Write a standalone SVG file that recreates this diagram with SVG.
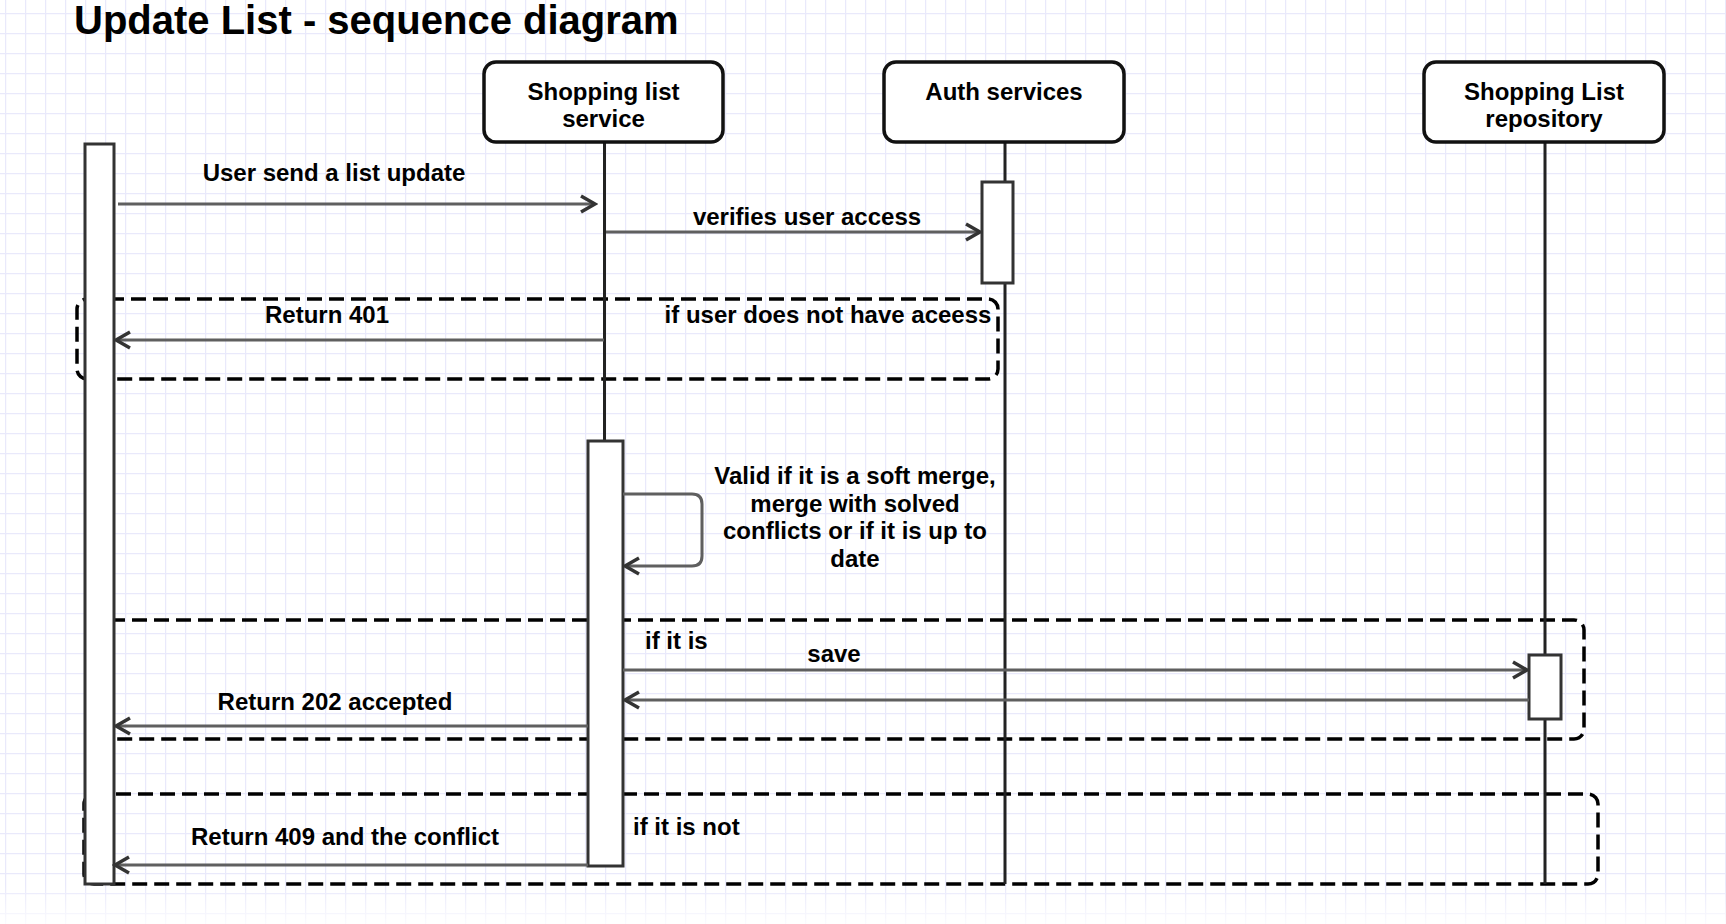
<svg xmlns="http://www.w3.org/2000/svg" width="1726" height="924" viewBox="0 0 1726 924">
<style>
text{font-family:"Liberation Sans",Arial,sans-serif;font-weight:bold;fill:#000}
.t{font-size:24px}
.c{text-anchor:middle}
.node{fill:#fff;stroke:#111;stroke-width:3.5}
.life{stroke:#222;stroke-width:3;fill:none}
.act{fill:#fff;stroke:#333;stroke-width:3}
.msg{stroke:#5f5f5f;stroke-width:3;fill:none;marker-end:url(#arr)}
.frame{fill:none;stroke:#000;stroke-width:3.5;stroke-dasharray:15 7}
</style>
<defs>
<pattern id="grid" width="20" height="20" patternUnits="userSpaceOnUse" x="5" y="13">
<path d="M0,0.5 H20 M0.5,0 V20" stroke="#e9e9fb" stroke-width="1.5" fill="none"/>
</pattern>
<linearGradient id="fade" x1="0" y1="0" x2="0" y2="1">
<stop offset="0" stop-color="#fff" stop-opacity="0"/>
<stop offset="1" stop-color="#fff" stop-opacity="0.8"/>
</linearGradient>
<marker id="arr" markerWidth="22" markerHeight="22" viewBox="0 0 22 22" refX="19" refY="11" orient="auto" markerUnits="userSpaceOnUse">
<path d="M5,3 L19,11 L5,19" fill="none" stroke="#333" stroke-width="3.5"/>
</marker>
</defs>
<rect width="1726" height="924" fill="#fff"/>
<rect width="1726" height="924" fill="url(#grid)"/>
<rect x="0" y="885" width="1726" height="39" fill="url(#fade)"/>

<text x="74" y="34" style="font-size:40px">Update List - sequence diagram</text>

<g id="frames">
<rect class="frame" x="77" y="299" width="921" height="80" rx="10"/>
<rect class="frame" x="100" y="620" width="1484" height="119" rx="10"/>
<rect class="frame" x="84" y="794" width="1514" height="90" rx="10"/>
</g>

<g id="lifelines">
<line class="life" x1="604.5" y1="143" x2="604.5" y2="866"/>
<line class="life" x1="1005" y1="143" x2="1005" y2="884"/>
<line class="life" x1="1545" y1="143" x2="1545" y2="884"/>
</g>

<g id="user">
<rect class="act" x="85" y="144" width="29" height="740"/>
</g>
<g id="activation-service">
<rect class="act" x="588" y="441" width="35" height="425"/>
</g>
<g id="activation-auth">
<rect class="act" x="982" y="182" width="31" height="101"/>
</g>
<g id="activation-repo">
<rect class="act" x="1529" y="655" width="32" height="64"/>
</g>

<g id="connectors">
<line class="msg" x1="118" y1="204" x2="595" y2="204"/>
<line class="msg" x1="606" y1="232" x2="980" y2="232"/>
<line class="msg" x1="604" y1="340" x2="116" y2="340"/>
<path class="msg" d="M623,494 H692 Q702,494 702,504 V556 Q702,566 692,566 H625"/>
<line class="msg" x1="623" y1="670" x2="1527" y2="670"/>
<line class="msg" x1="1529" y1="700" x2="625" y2="700"/>
<line class="msg" x1="588" y1="726" x2="116" y2="726"/>
<line class="msg" x1="588" y1="865" x2="115" y2="865"/>
</g>

<g id="labels">
<text class="t c" x="334" y="181">User send a list update</text>
<text class="t c" x="807" y="225">verifies user access</text>
<text class="t c" x="327" y="323">Return 401</text>
<text class="t c" x="828" y="323">if user does not have aceess</text>
<text class="t c" x="855" y="484">Valid if it is a soft merge,</text>
<text class="t c" x="855" y="512">merge with solved</text>
<text class="t c" x="855" y="539">conflicts or if it is up to</text>
<text class="t c" x="855" y="567">date</text>
<text class="t" x="645" y="649">if it is</text>
<text class="t c" x="834" y="662">save</text>
<text class="t c" x="335" y="710">Return 202 accepted</text>
<text class="t" x="633" y="835">if it is not</text>
<text class="t c" x="345" y="845">Return 409 and the conflict</text>
</g>

<g id="node-service">
<rect class="node" x="484" y="62" width="239" height="80" rx="12"/>
<text class="t c" x="603.5" y="100">Shopping list</text>
<text class="t c" x="603.5" y="127">service</text>
</g>
<g id="node-auth">
<rect class="node" x="884" y="62" width="240" height="80" rx="12"/>
<text class="t c" x="1004" y="100">Auth services</text>
</g>
<g id="node-repo">
<rect class="node" x="1424" y="62" width="240" height="80" rx="12"/>
<text class="t c" x="1544" y="100">Shopping List</text>
<text class="t c" x="1544" y="127">repository</text>
</g>
</svg>
